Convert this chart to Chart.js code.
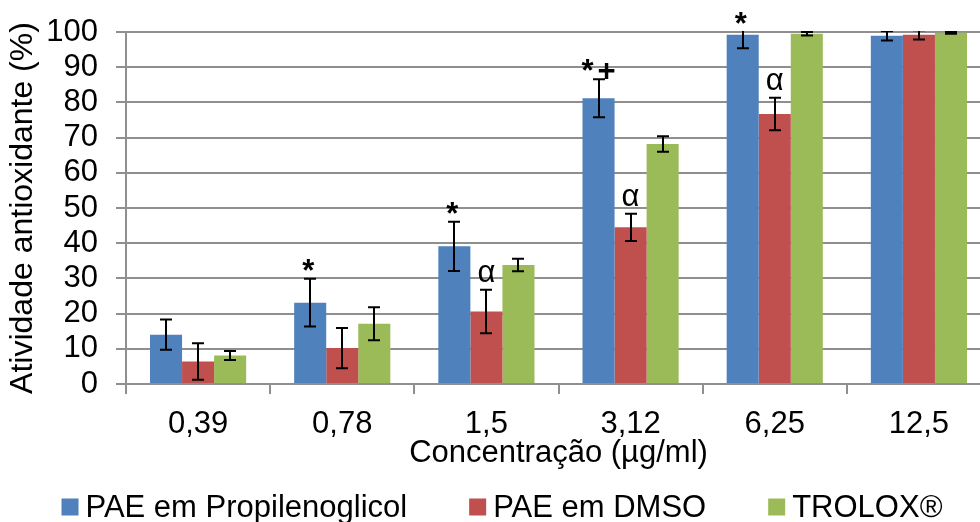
<!DOCTYPE html>
<html>
<head>
<meta charset="utf-8">
<script src="https://cdn.jsdelivr.net/npm/chart.js@4.4.1/dist/chart.umd.min.js"></script>
<style>
  html, body { margin: 0; padding: 0; background: #fff; overflow: hidden; }
  #wrap { width: 1004px; height: 522px; }
</style>
</head>
<body>
<div id="wrap"><canvas id="chart" width="1004" height="522"></canvas></div>
<script>
const categories = ["0,39", "0,78", "1,5", "3,12", "6,25", "12,5"];
const seriesNames = ["PAE em Propilenoglicol", "PAE em DMSO", "TROLOX®"];
const seriesColours = ["#4f81bd", "#c0504d", "#9bbb59"];

const propilenoglicol = [14.0, 23.1, 39.1, 81.2, 99.2, 98.9];
const propilenoglicolErr = [4.3, 6.8, 7.0, 5.4, 3.8, 1.3];
const dmso = [6.4, 10.2, 20.6, 44.5, 76.7, 99.2];
const dmsoErr = [5.2, 5.7, 6.2, 3.9, 4.6, 1.3];
const trolox = [8.1, 17.1, 33.8, 68.2, 99.5, 99.8];
const troloxErr = [1.3, 4.7, 1.8, 2.2, 0.5, 0.3];

const yTicks = [0, 10, 20, 30, 40, 50, 60, 70, 80, 90, 100];

// significance marks: [series, category index, text]
const marks = [
  [0, 1, "*"],
  [0, 2, "*"],
  [0, 3, "*+"],
  [0, 4, "*"],
  [1, 2, "α"],
  [1, 3, "α"],
  [1, 4, "α"],
];

const FONT = "'Liberation Sans', Arial, sans-serif";
const gridGrey = "#8f8f8f";

const errorBars = {
  id: "errorBars",
  afterDatasetsDraw(chart) {
    const ctx = chart.ctx;
    const area = chart.chartArea;
    const y = chart.scales.y;
    ctx.save();
    ctx.beginPath();
    ctx.rect(area.left, area.top - 1, area.right - area.left, area.bottom - area.top + 1);
    ctx.clip();
    ctx.strokeStyle = "#000";
    ctx.lineWidth = 2;
    chart.data.datasets.forEach((ds, di) => {
      chart.getDatasetMeta(di).data.forEach((bar, i) => {
        const v = ds.data[i];
        const e = ds.errors[i];
        const top = y.getPixelForValue(v + e);
        const bot = y.getPixelForValue(v - e);
        const x = Math.round(bar.x);
        ctx.beginPath();
        ctx.moveTo(x, top);
        ctx.lineTo(x, bot);
        ctx.moveTo(x - 6, top);
        ctx.lineTo(x + 6, top);
        ctx.moveTo(x - 6, bot);
        ctx.lineTo(x + 6, bot);
        ctx.stroke();
      });
    });
    ctx.restore();
  },
};

const sigMarks = {
  id: "sigMarks",
  afterDatasetsDraw(chart) {
    const ctx = chart.ctx;
    const y = chart.scales.y;
    ctx.save();
    ctx.fillStyle = "#000";
    ctx.textAlign = "center";
    ctx.textBaseline = "alphabetic";
    marks.forEach(([s, i, text]) => {
      const ds = chart.data.datasets[s];
      const bar = chart.getDatasetMeta(s).data[i];
      const top = y.getPixelForValue(Math.min(ds.data[i] + ds.errors[i], 100));
      if (text.startsWith("*")) {
        ctx.font = "bold 31px " + FONT;
        ctx.letterSpacing = "4px";
        ctx.fillText(text, bar.x + (text.length > 1 ? 2 : 0), top + 2);
      } else {
        ctx.font = "31px " + FONT;
        ctx.letterSpacing = "0px";
        ctx.fillText(text, bar.x, top - 8);
      }
    });
    ctx.restore();
  },
};

// legend drawn by hand so the spacing can follow the original
const bottomLegend = {
  id: "bottomLegend",
  afterDraw(chart) {
    const ctx = chart.ctx;
    ctx.save();
    ctx.font = "31px " + FONT;
    ctx.textBaseline = "middle";
    ctx.textAlign = "left";
    const box = 17, gap = 7, spacing = 62;
    const widths = seriesNames.map((n) => box + gap + ctx.measureText(n).width);
    const total = widths.reduce((a, b) => a + b, 0) + spacing * (widths.length - 1);
    let x = 502 - total / 2;
    const cy = 507;
    seriesNames.forEach((name, k) => {
      ctx.fillStyle = seriesColours[k];
      ctx.fillRect(x, cy - box / 2, box, box);
      ctx.fillStyle = "#000";
      ctx.fillText(name, x + box + gap, cy + 1);
      x += widths[k] + spacing;
    });
    ctx.restore();
  },
};

const datasets = [
  { label: seriesNames[0], data: propilenoglicol, errors: propilenoglicolErr, backgroundColor: seriesColours[0] },
  { label: seriesNames[1], data: dmso, errors: dmsoErr, backgroundColor: seriesColours[1] },
  { label: seriesNames[2], data: trolox, errors: troloxErr, backgroundColor: seriesColours[2] },
].map((d) => Object.assign(d, { borderWidth: 0, barPercentage: 1, categoryPercentage: 0.667 }));

new Chart(document.getElementById("chart"), {
  type: "bar",
  data: { labels: categories, datasets: datasets },
  plugins: [errorBars, sigMarks, bottomLegend],
  options: {
    responsive: false,
    animation: false,
    devicePixelRatio: 1,
    layout: { padding: { left: 4, right: 13, top: 0, bottom: 50 } },
    plugins: {
      legend: { display: false },
      tooltip: { enabled: false },
    },
    scales: {
      x: {
        offset: true,
        afterFit(scale) { scale.height = 88; },
        grid: { drawOnChartArea: false, offset: true, color: gridGrey, lineWidth: 2, tickLength: 10 },
        border: { color: gridGrey, width: 2 },
        ticks: { color: "#000", font: { family: FONT, size: 31 }, padding: 12, maxRotation: 0 },
        title: {
          display: true,
          text: "Concentração (µg/ml)",
          color: "#000",
          font: { family: FONT, size: 31 },
          padding: { top: -8, bottom: 0 },
        },
      },
      y: {
        min: 0,
        max: 100,
        afterBuildTicks(scale) {
          scale.ticks = yTicks.map((v) => ({ value: v }));
        },
        afterFit(scale) {
          scale.width = 122;
          scale.paddingTop = 32;
        },
        grid: { color: gridGrey, lineWidth: 2, tickLength: 10 },
        border: { color: gridGrey, width: 2 },
        ticks: { color: "#000", font: { family: FONT, size: 31 }, padding: 18, autoSkip: false },
        title: {
          display: true,
          text: "Atividade antioxidante (%)",
          color: "#000",
          font: { family: FONT, size: 32 },
          padding: { top: 0, bottom: 0 },
        },
      },
    },
  },
});
</script>
</body>
</html>
